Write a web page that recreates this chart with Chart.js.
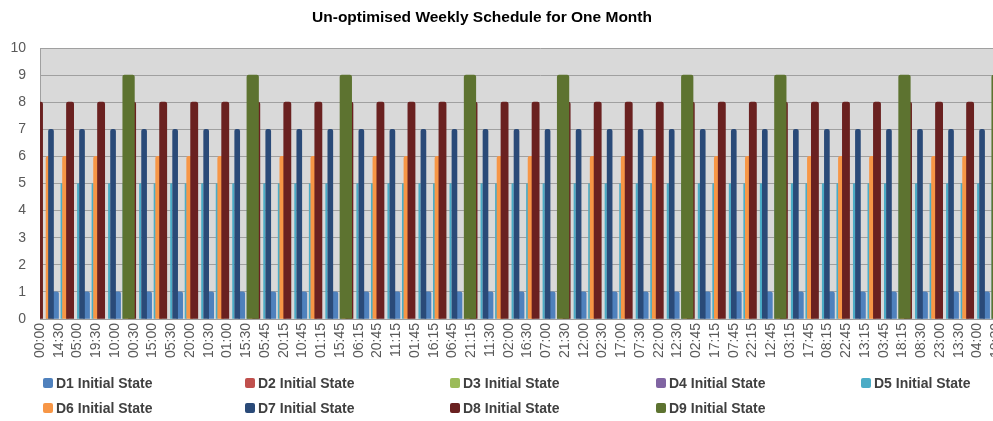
<!DOCTYPE html>
<html>
<head>
<meta charset="utf-8">
<script src="https://cdn.jsdelivr.net/npm/chart.js@4/dist/chart.umd.min.js"></script>
<style>
html,body{margin:0;padding:0;background:#fff;overflow:hidden;width:993px;height:421px;}
#wrap{position:relative;width:1040px;height:421px;}
#c{position:absolute;left:0;top:0;}
#legend{position:absolute;left:0;top:0;width:993px;height:421px;pointer-events:none;
  font:bold 14px "Liberation Sans",Arial,sans-serif;color:#404040;}
.li{position:absolute;display:flex;align-items:center;white-space:nowrap;height:16px;line-height:16px;}
.sw{display:inline-block;width:10px;height:10px;border-radius:2px;margin-right:3px;}
</style>
</head>
<body>
<div id="wrap">
  <canvas id="c" width="1040" height="421"></canvas>
  <div id="legend"></div>
</div>
<script>
// ---------- data ----------
const chartTitle = 'Un-optimised Weekly Schedule for One Month';

const tickLabels = ['00:00','14:30','05:00','19:30','10:00','00:30','15:00','05:30','20:00','10:30',
  '01:00','15:30','05:45','20:15','10:45','01:15','15:45','06:15','20:45','11:15',
  '01:45','16:15','06:45','21:15','11:30','02:00','16:30','07:00','21:30','12:00',
  '02:30','17:00','07:30','22:00','12:30','02:45','17:15','07:45','22:15','12:45',
  '03:15','17:45','08:15','22:45','13:15','03:45','18:15','08:30','23:00','13:30',
  '04:00','18:30'];
const hoursPerTickLabel = 14.5;   // elapsed hours between two shown axis labels

const seriesNames = ['D1 Initial State','D2 Initial State','D3 Initial State','D4 Initial State',
  'D5 Initial State','D6 Initial State','D7 Initial State','D8 Initial State','D9 Initial State'];
const seriesLevels = [1, 2, 3, 4, 5, 6, 7, 8, 9];

// run times of each device, in hours since 00:00 of the first day
const d1Hours = [12,36,60,84,108,132,156,180,204,228,252,276,300,324,348,372,396,420,444,468,
  492,516,540,564,588,612,636,660,684,708,732];
const d2Hours = [];
const d3Hours = [];
const d4Hours = [];
const d5Hours = [5.5,16.75,29.5,40.75,53.5,64.75,77.5,88.75,101.5,112.75,125.5,136.75,149.5,160.75,
  173.5,184.75,197.5,208.75,221.5,232.75,245.5,256.75,269.5,280.75,293.5,304.75,317.5,328.75,
  341.5,352.75,365.5,376.75,389.5,400.75,413.5,424.75,437.5,448.75,461.5,472.75,485.5,496.75,
  509.5,520.75,533.5,544.75,557.5,568.75,581.5,592.75,605.5,616.75,629.5,640.75,653.5,664.75,
  677.5,688.75,701.5,712.75,725.5,736.75];
const d6Hours = [7,19.75,43.75,67.75,91.75,115.75,139.75,163.75,187.75,211.75,235.75,259.75,283.75,
  307.75,331.75,355.75,379.75,403.75,427.75,451.75,475.75,499.75,523.75,547.75,571.75,595.75,
  619.75,643.75,667.75,691.75,715.75];
const d7Hours = [8.5,32.5,56.5,80.5,104.5,128.5,152.5,176.5,200.5,224.5,248.5,272.5,296.5,320.5,
  344.5,368.5,392.5,416.5,440.5,464.5,488.5,512.5,536.5,560.5,584.5,608.5,632.5,656.5,680.5,
  704.5,728.5];
const d8Hours = [-0.75,23.25,47.25,71.25,95.25,119.25,143.25,167.25,191.25,215.25,239.25,263.25,
  287.25,311.25,335.25,359.25,383.25,407.25,431.25,455.25,479.25,503.25,527.25,551.25,575.25,
  599.25,623.25,647.25,671.25,695.25,719.25];
const d9Hours = [68.5,164.5,236.5,332.5,404.5,500.5,572.5,668.5,740.5];

const seriesHours = [d1Hours,d2Hours,d3Hours,d4Hours,d5Hours,d6Hours,d7Hours,d8Hours,d9Hours];

// ---------- styles ----------
const colors = ['#4F81BD','#C0504D','#9BBB59','#8064A2','#4BACC6','#F79646','#2A4A78','#6A2120','#5D7330'];
const thickness = [6, 5, 5, 5, 1.5, 6, 5, 7.2, 11.6];
const FONT = '"Liberation Sans", Arial, sans-serif';

const datasets = seriesNames.map((name, k) => ({
  label: name,
  data: seriesHours[k].map(h => ({x: h, y: seriesLevels[k]})),
  backgroundColor: colors[k],
  borderWidth: 0,
  barThickness: thickness[k],
  grouped: false,
  borderRadius: 2,
  borderSkipped: 'start',
  order: seriesNames.length - k
}));

const plotBg = {
  id: 'plotBg',
  beforeDraw(chart) {
    const a = chart.chartArea, ctx = chart.ctx;
    ctx.save();
    ctx.fillStyle = '#D9D9D9';
    ctx.fillRect(a.left, a.top, a.right - a.left, a.bottom - a.top);
    ctx.restore();
  }
};
const titlePlugin = {
  id: 'titleAt',
  afterDraw(chart) {
    const ctx = chart.ctx;
    ctx.save();
    ctx.font = 'bold 15.5px ' + FONT;
    ctx.fillStyle = '#000';
    ctx.textAlign = 'center';
    ctx.textBaseline = 'alphabetic';
    ctx.fillText(chartTitle, 482, 22);
    ctx.restore();
  }
};

const chart = new Chart(document.getElementById('c'), {
  type: 'bar',
  data: { datasets },
  plugins: [plotBg, titlePlugin],
  options: {
    responsive: false,
    animation: false,
    layout: { padding: { top: 48, bottom: 46, left: 0, right: 0 } },
    plugins: { legend: { display: false }, title: { display: false }, tooltip: { enabled: false } },
    scales: {
      x: {
        type: 'linear', min: 0, max: 773.3, stacked: false, offset: false,
        grid: { display: false, drawTicks: false, offset: false },
        border: { display: true, color: '#A0A0A0' },
        afterBuildTicks: s => { s.ticks = tickLabels.map((_, i) => ({ value: i * hoursPerTickLabel })); },
        afterFit: s => { s.height = 56; },
        ticks: {
          autoSkip: false, maxRotation: 90, minRotation: 90, padding: 4,
          color: '#595959', font: { family: FONT, size: 14 },
          callback: (v, i) => tickLabels[i]
        }
      },
      y: {
        min: 0, max: 10, stacked: false,
        grid: { color: '#A0A0A0', drawTicks: false },
        border: { display: true, color: '#A0A0A0' },
        afterFit: s => { s.width = 40; },
        ticks: { stepSize: 1, padding: 14, color: '#595959', font: { family: FONT, size: 14 } }
      }
    }
  }
});

// HTML legend built from the chart's datasets
const legendCols = [43, 245, 450, 656, 861];
const legendRows = [375, 400];
const legendEl = document.getElementById('legend');
chart.data.datasets.forEach((ds, i) => {
  const el = document.createElement('div');
  el.className = 'li';
  el.style.left = legendCols[i % 5] + 'px';
  el.style.top = legendRows[Math.floor(i / 5)] + 'px';
  const sw = document.createElement('span');
  sw.className = 'sw';
  sw.style.background = ds.backgroundColor;
  el.appendChild(sw);
  el.appendChild(document.createTextNode(ds.label));
  legendEl.appendChild(el);
});
</script>
</body>
</html>
